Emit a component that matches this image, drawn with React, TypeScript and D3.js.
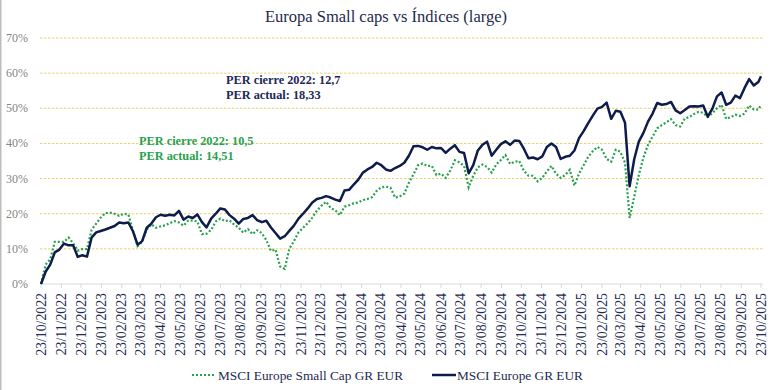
import React, { useRef, useEffect } from 'react';
import * as d3 from 'd3';

const startDate = new Date(2022, 9, 23);
const endDate = new Date(2025, 9, 23);

// weekly readings, % return since 23/10/2022 (last value = 23/10/2025)
const smallCapValues = [
  0, 5.5, 7, 12, 12, 12, 13.2, 11.6, 9.5, 9.9, 9.9, 15.4, 17.2, 18.9, 20.2, 20.3, 20, 19.4, 20, 19.8,
  15.2, 10.8, 12, 15.5, 17, 16, 16.4, 16.7, 17.3, 17.9, 17.5, 16.6, 18, 18.1, 17.8, 14.2, 14.3, 15.4, 17.8, 18.6,
  17.9, 18.1, 16.9, 16, 14.6, 15.6, 14.2, 15.3, 14.5, 12.5, 9.4, 9.8, 5.0, 4.3, 10, 12.2, 14.7, 16, 17.3, 18.9,
  20.9, 22.3, 23.4, 21.6, 21, 19.6, 22, 22.4, 23, 23.2, 23.9, 24.2, 24.7, 26.5, 27.5, 27.7, 27.4, 24.6, 24.9, 25.7,
  28.8, 31.2, 33.8, 34.3, 33.6, 33.6, 31, 31.4, 30.2, 32.3, 35.2, 34.6, 33.6, 27.5, 30.8, 33.2, 34, 33.3, 31.7, 34,
  35.3, 36.7, 34.2, 34.8, 35, 32.2, 30.8, 30.8, 29.2, 30.2, 32, 33.6, 31.4, 30.2, 31, 32.5, 28, 31.4, 33.8, 36.2,
  37.8, 39, 38.2, 35.6, 34.8, 38.2, 37.6, 34.5, 18.8, 24.8, 31, 36, 39.6, 42, 44.3, 45.2, 46, 46.9, 45.2, 44.8,
  47.1, 47.5, 48.4, 49, 48.7, 47.5, 48.6, 50, 51, 47, 47.5, 48.2, 47.8, 48.5, 50.8, 49.7, 49.6, 51,
];

const largeCapValues = [
  0, 3.5, 5.5, 9, 9.8, 11.5, 11, 11, 7.7, 8.2, 7.8, 13.2, 14.7, 15.1, 15.5, 16, 16.5, 17.5, 17.3, 17.5,
  15, 11.2, 12.2, 16, 17.2, 19, 19.7, 19.4, 19.7, 19.5, 20.8, 18.3, 19.2, 18.8, 19.8, 17.6, 16.1, 18.6, 20, 21.5,
  21.2, 19.6, 18.6, 17.2, 18.5, 18.8, 19.6, 18.2, 17.6, 18, 16.1, 14.5, 12.9, 13.6, 15.1, 16.6, 18.6, 20, 21.5, 23.2,
  24.2, 24.5, 25, 24.6, 24, 23.6, 26.6, 26.8, 28.3, 29.7, 31.7, 32.6, 33.3, 34.5, 33.8, 32.6, 32.2, 33, 33.6, 34.5,
  36.5, 39.2, 39.3, 38.9, 38.2, 39, 38.6, 38.7, 37.3, 38.5, 39.5, 37.6, 37.3, 31.5, 33.8, 38, 39.6, 40.5, 36.5, 38.2,
  39.8, 40.6, 39.6, 40.8, 40.7, 38.5, 35.8, 36, 35.5, 36.3, 39, 40, 39, 35.6, 36.2, 36.5, 38, 41.5, 43.5, 45.8,
  47.9, 49.9, 50.4, 51.6, 47, 49.3, 49, 45.9, 27.8, 35.5, 40.5, 43, 46.2, 48.5, 51.5, 51, 51.2, 51.8, 49.4, 48.6,
  49.5, 50.5, 50.6, 50.5, 50.8, 47.6, 49.9, 53.4, 54.5, 51, 51.6, 53.6, 52.9, 55.8, 58.3, 56.5, 57.5, 59.1,
];

const yTicks = [0, 10, 20, 30, 40, 50, 60, 70];
const tickDates = d3.range(37).map(m => new Date(2022, 9 + m, 23));

const chartTitle = 'Europa Small caps vs Índices (large)';
const seriesNames = ['MSCI Europe Small Cap GR EUR', 'MSCI Europe GR EUR'];
const largeNotes = ['PER cierre 2022: 12,7', 'PER actual: 18,33'];
const smallNotes = ['PER cierre 2022: 10,5', 'PER actual: 14,51'];

const GREEN = '#28a24f';
const NAVY = '#0e1c4c';
const TEXT = '#1e2a4f';
const FONT = '"Liberation Serif", "Times New Roman", serif';

const toPoints = (vals: number[]) =>
  vals.map((v, i) => ({
    date: i === vals.length - 1 ? endDate : d3.timeDay.offset(startDate, 7 * i),
    value: v,
  }));

const App = () => {
  const svgRef = useRef<SVGSVGElement | null>(null);
  const width = 772;
  const height = 390;

  useEffect(() => {
    if (!svgRef.current) return;
    const svg = d3.select(svgRef.current);
    svg.selectAll('*').remove();

    const x = d3.scaleTime().domain([startDate, endDate]).range([41, 761]);
    const y = d3.scaleLinear().domain([0, 70]).range([284, 38]);

    svg.append('rect').attr('width', width).attr('height', height).attr('fill', '#fff');
    svg.append('line')
      .attr('x1', 0.75).attr('x2', 0.75).attr('y1', 0).attr('y2', height)
      .attr('stroke', '#bdbdbd').attr('stroke-width', 1.5);

    // title
    svg.append('text')
      .attr('x', 386).attr('y', 22)
      .attr('text-anchor', 'middle')
      .attr('font-family', FONT).attr('font-size', '16.5px')
      .attr('fill', TEXT)
      .text(chartTitle);

    // gridlines + y labels
    svg.selectAll('.grid')
      .data(yTicks.filter(d => d > 0))
      .enter().append('line')
      .attr('x1', 40).attr('x2', 763)
      .attr('y1', d => y(d)).attr('y2', d => y(d))
      .attr('stroke', '#eccf72').attr('stroke-width', 1)
      .attr('stroke-dasharray', '2.5,1.5');

    svg.selectAll('.ylab')
      .data(yTicks)
      .enter().append('text')
      .attr('x', 28).attr('y', d => y(d) + 4)
      .attr('text-anchor', 'end')
      .attr('font-family', FONT).attr('font-size', '12px')
      .attr('fill', '#858585')
      .text(d => `${d}%`);

    // x axis
    svg.append('line')
      .attr('x1', 40).attr('x2', 763).attr('y1', 284).attr('y2', 284)
      .attr('stroke', '#d9d9d9').attr('stroke-width', 1);
    svg.selectAll('.xtick')
      .data(tickDates)
      .enter().append('line')
      .attr('x1', d => x(d)).attr('x2', d => x(d))
      .attr('y1', 284).attr('y2', 288)
      .attr('stroke', '#d9d9d9');
    const fmt = d3.timeFormat('%d/%m/%Y');
    svg.selectAll('.xlab')
      .data(tickDates)
      .enter().append('text')
      .attr('transform', d => `translate(${x(d) + 4.5}, 293) rotate(-90)`)
      .attr('text-anchor', 'end')
      .attr('font-family', FONT).attr('font-size', '13.8px')
      .attr('fill', TEXT)
      .text(d => fmt(d));

    // lines
    const line = d3.line<{ date: Date; value: number }>()
      .x(d => x(d.date))
      .y(d => y(d.value));

    svg.append('path')
      .datum(toPoints(smallCapValues))
      .attr('fill', 'none')
      .attr('stroke', GREEN)
      .attr('stroke-width', 2.2)
      .attr('stroke-dasharray', '2,2')
      .attr('d', line);

    svg.append('path')
      .datum(toPoints(largeCapValues))
      .attr('fill', 'none')
      .attr('stroke', NAVY)
      .attr('stroke-width', 2.5)
      .attr('stroke-linejoin', 'round')
      .attr('d', line);

    // PER notes
    largeNotes.forEach((t, i) => {
      svg.append('text')
        .attr('x', 226).attr('y', 84 + i * 14.5)
        .attr('font-family', FONT).attr('font-size', '12.3px').attr('font-weight', 'bold')
        .attr('fill', '#1b2857')
        .text(t);
    });
    smallNotes.forEach((t, i) => {
      svg.append('text')
        .attr('x', 139).attr('y', 145 + i * 14.5)
        .attr('font-family', FONT).attr('font-size', '12.3px').attr('font-weight', 'bold')
        .attr('fill', GREEN)
        .text(t);
    });

    // legend
    const legendY = 375;
    svg.append('line')
      .attr('x1', 192).attr('x2', 214).attr('y1', legendY).attr('y2', legendY)
      .attr('stroke', GREEN).attr('stroke-width', 2.2).attr('stroke-dasharray', '2,2');
    svg.append('text')
      .attr('x', 218).attr('y', legendY + 4.5)
      .attr('font-family', FONT).attr('font-size', '13.3px')
      .attr('fill', TEXT)
      .text(seriesNames[0]);
    svg.append('line')
      .attr('x1', 432).attr('x2', 456).attr('y1', legendY).attr('y2', legendY)
      .attr('stroke', NAVY).attr('stroke-width', 2.5);
    svg.append('text')
      .attr('x', 457).attr('y', legendY + 4.5)
      .attr('font-family', FONT).attr('font-size', '13.3px')
      .attr('fill', TEXT)
      .text(seriesNames[1]);
  }, []);

  return (
    <svg
      ref={svgRef}
      width={width}
      height={height}
      style={{ position: 'absolute', left: 0, top: 0, display: 'block' }}
    />
  );
};

export default App;
